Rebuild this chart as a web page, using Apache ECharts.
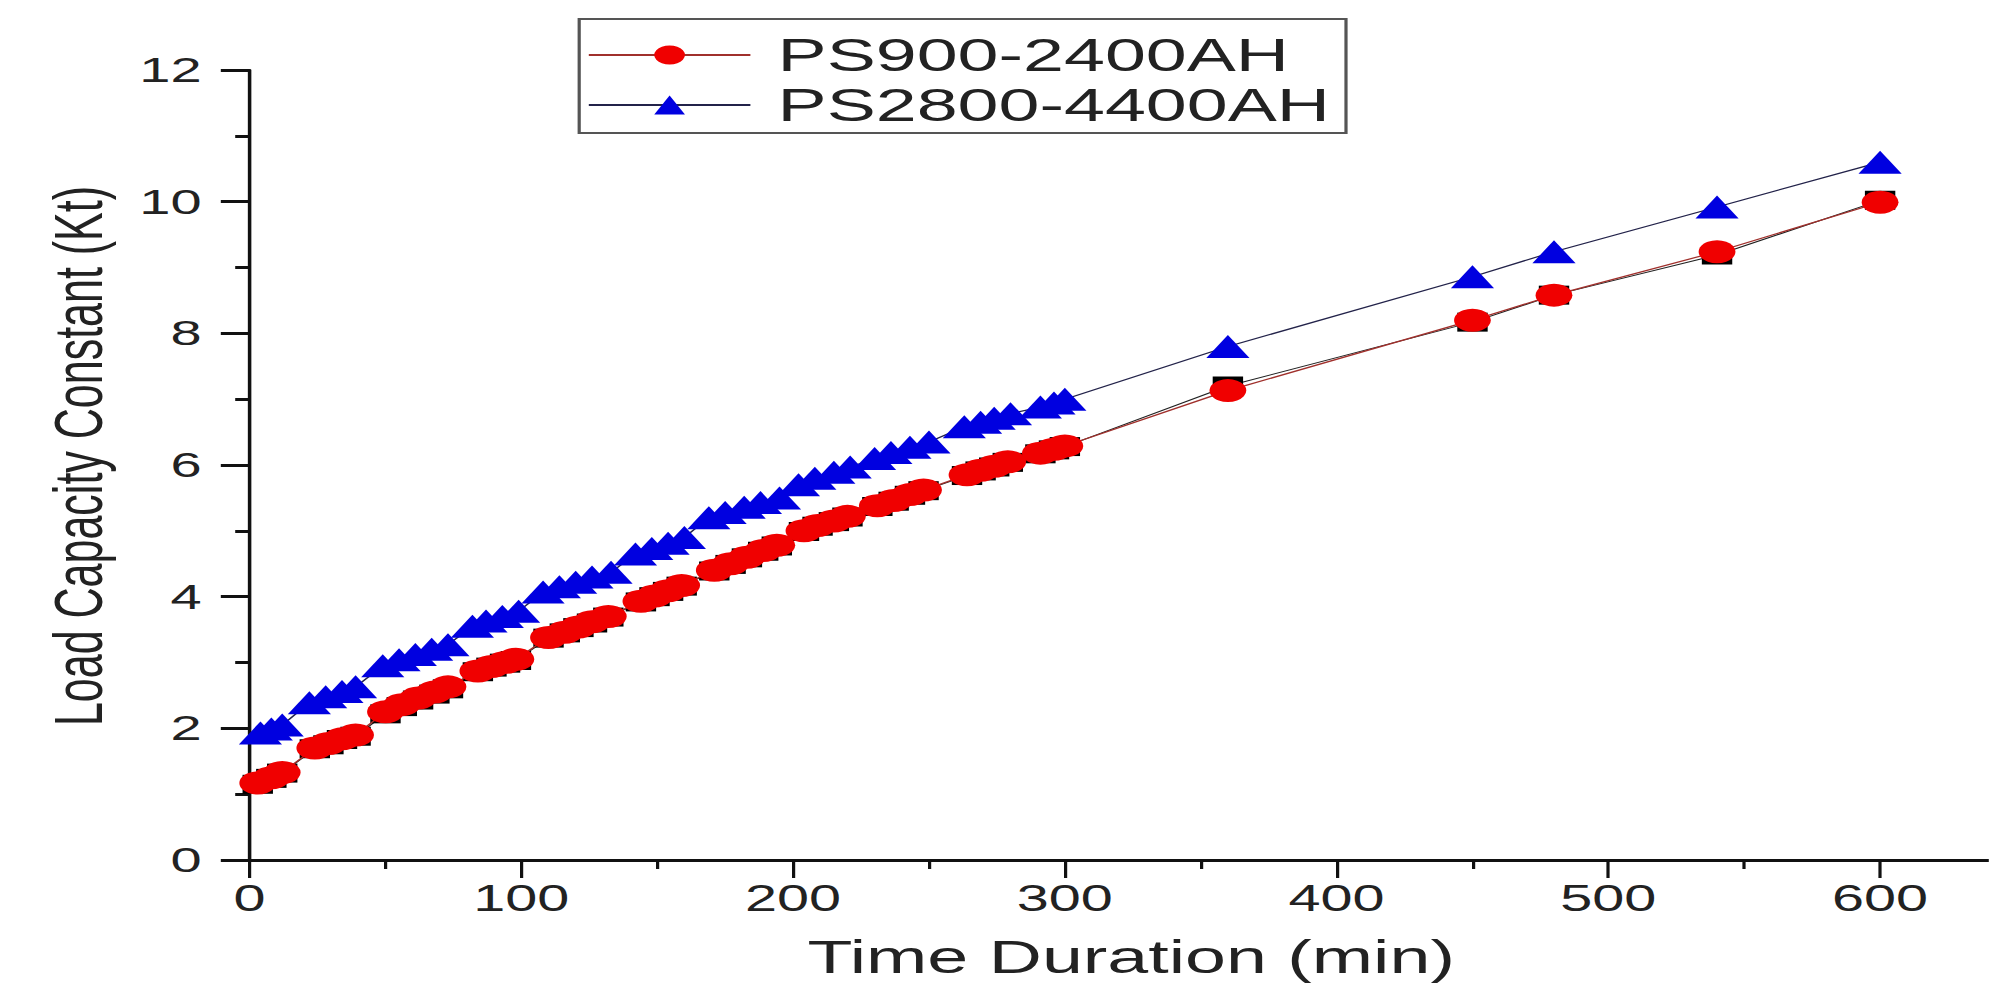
<!DOCTYPE html>
<html>
<head>
<meta charset="utf-8">
<script src="https://cdn.jsdelivr.net/npm/echarts@6/dist/echarts.min.js"></script>
<style>
  html, body { margin: 0; padding: 0; background: #fff; overflow: hidden; }
  #wrap { width: 1989px; height: 989px; overflow: hidden; }
  /* the reference figure is horizontally stretched; draw narrower and stretch */
  #chart { width: 1243px; height: 989px; transform: scaleX(1.6); transform-origin: 0 0; }
</style>
</head>
<body>
<div id="wrap"><div id="chart"></div></div>
<script>
// ---- data ----
const seriesNames = ['PS900-2400AH', 'PS2800-4400AH'];

const timeRed = [3, 8, 12, 24, 29, 34, 39, 50, 56, 62, 68, 73, 84, 89, 94, 98,
  110, 116, 121, 126, 132, 144, 149, 154, 159, 171, 177, 183, 189, 194,
  204, 209, 215, 220, 231, 237, 243, 248, 264, 269, 274, 279, 291, 296, 300,
  360, 450, 480, 540, 600];
const valuesRed = [1.17, 1.25, 1.33, 1.70, 1.77, 1.84, 1.90, 2.25, 2.36, 2.46, 2.55, 2.63, 2.87, 2.94, 3.00, 3.05,
  3.38, 3.46, 3.54, 3.62, 3.70, 3.93, 4.01, 4.09, 4.17, 4.40, 4.50, 4.60, 4.70, 4.78,
  5.00, 5.08, 5.15, 5.22, 5.38, 5.46, 5.55, 5.62, 5.85, 5.92, 5.98, 6.05, 6.18, 6.24, 6.29,
  7.13, 8.20, 8.58, 9.24, 9.99];
// hidden black-square series peeking out under the red circles (same times)
const valuesBlack = [1.15, 1.24, 1.32, 1.69, 1.75, 1.83, 1.88, 2.22, 2.33, 2.43, 2.52, 2.60, 2.86, 2.93, 2.99, 3.03,
  3.37, 3.45, 3.53, 3.60, 3.69, 3.92, 4.00, 4.08, 4.16, 4.39, 4.49, 4.59, 4.69, 4.77,
  4.99, 5.07, 5.14, 5.21, 5.37, 5.45, 5.54, 5.61, 5.84, 5.91, 5.97, 6.04, 6.17, 6.23, 6.28,
  7.20, 8.17, 8.58, 9.19, 10.02];

const timeBlue = [4, 8, 12, 22, 28, 34, 39, 49, 55, 61, 67, 73, 82, 87, 93, 99,
  108, 114, 120, 126, 133, 142, 148, 154, 160, 169, 175, 182, 188, 195,
  202, 208, 215, 221, 230, 236, 243, 250, 263, 269, 274, 280, 291, 296, 300,
  360, 450, 480, 540, 600];
const valuesBlue = [1.93, 1.99, 2.05, 2.39, 2.48, 2.56, 2.63, 2.95, 3.04, 3.12, 3.20, 3.27, 3.55, 3.63, 3.70, 3.78,
  4.07, 4.15, 4.22, 4.30, 4.37, 4.65, 4.73, 4.81, 4.90, 5.20, 5.28, 5.36, 5.43, 5.50,
  5.70, 5.80, 5.89, 5.97, 6.10, 6.19, 6.27, 6.35, 6.58, 6.65, 6.71, 6.78, 6.88, 6.94, 7.00,
  7.80, 8.86, 9.24, 9.92, 10.60];

const xMajorTicks = [0, 100, 200, 300, 400, 500, 600];
const xMinorTicks = [50, 150, 250, 350, 450, 550];

// ---- chart ----
const FONT = '"Liberation Sans", Arial, Helvetica, sans-serif';
const zip = (xs, ys) => xs.map((x, i) => [x, ys[i]]);

const chart = echarts.init(document.getElementById('chart'), null, { renderer: 'svg' });
chart.setOption({
  animation: false,
  backgroundColor: '#fff',
  grid: { left: 156, right: 0, top: 70, bottom: 129, containLabel: false },
  legend: {
    data: seriesNames,
    orient: 'vertical',
    left: 362, top: 19,
    itemWidth: 101, itemHeight: 24, itemGap: 4,
    padding: [13, 10, 5, 5],
    borderColor: '#555', borderWidth: 2,
    textStyle: { fontFamily: FONT, fontSize: 46, color: '#222', padding: [0, 0, 0, 12] }
  },
  xAxis: [{
    type: 'value', min: 0, max: 640, interval: 100,
    position: 'bottom',
    name: 'Time Duration (min)', nameLocation: 'middle', nameGap: 74,
    nameTextStyle: { fontFamily: FONT, fontSize: 46, color: '#222', padding: [0, 0, 0, 15] },
    axisLine: { show: true, lineStyle: { color: '#111', width: 3 } },
    axisTick: { show: true, customValues: xMajorTicks, length: 18, lineStyle: { color: '#111', width: 2 } },
    axisLabel: { customValues: xMajorTicks, fontFamily: FONT, fontSize: 36, color: '#222', margin: 21 },
    splitLine: { show: false }
  }, {
    type: 'value', min: 0, max: 640, interval: 100,
    position: 'bottom',
    axisLine: { show: false },
    axisTick: { show: true, customValues: xMinorTicks, length: 9, lineStyle: { color: '#111', width: 2 } },
    axisLabel: { show: false },
    splitLine: { show: false }
  }],
  yAxis: {
    type: 'value', min: 0, max: 12, interval: 2,
    name: 'Load Capacity Constant (Kt)', nameLocation: 'middle', nameGap: 86, nameRotate: 90,
    nameTextStyle: { fontFamily: FONT, fontSize: 43, color: '#222', padding: [0, 0, 0, 18] },
    axisLine: { show: true, lineStyle: { color: '#111', width: 2.2 } },
    axisTick: { show: true, length: 18, lineStyle: { color: '#111', width: 3 } },
    minorTick: { show: true, splitNumber: 2, length: 9, lineStyle: { color: '#111', width: 3 } },
    axisLabel: { fontFamily: FONT, fontSize: 35, color: '#222', margin: 30 },
    splitLine: { show: false }
  },
  series: [{
    name: 'hidden',
    type: 'line',
    data: zip(timeRed, valuesBlack),
    symbol: 'rect', symbolSize: [19, 19],
    itemStyle: { color: '#000' },
    lineStyle: { color: '#222', width: 1 },
    z: 1
  }, {
    name: seriesNames[0],
    type: 'line',
    data: zip(timeRed, valuesRed),
    symbol: 'circle', symbolSize: 23,
    itemStyle: { color: '#f00000' },
    lineStyle: { color: '#a0302c', width: 1.2 },
    z: 2
  }, {
    name: seriesNames[1],
    type: 'line',
    data: zip(timeBlue, valuesBlue),
    symbol: 'triangle', symbolSize: [27, 23],
    itemStyle: { color: '#0000e0' },
    lineStyle: { color: '#23234a', width: 1.2 },
    z: 3
  }]
});
</script>
</body>
</html>
